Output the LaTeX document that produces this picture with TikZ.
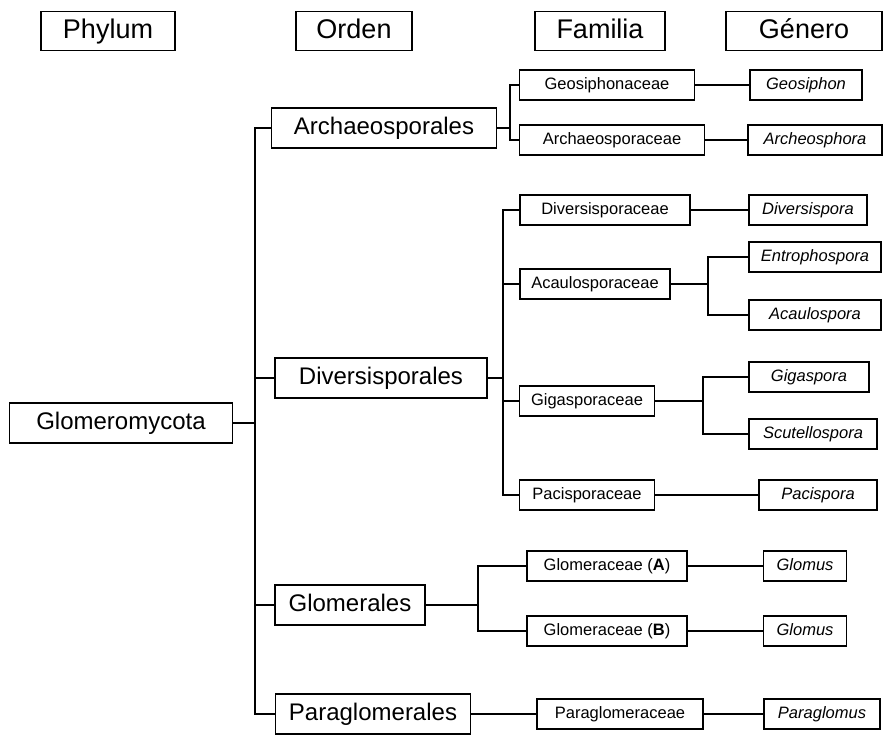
\documentclass[tikz,border=0pt]{standalone}
\usepackage{fontspec}
\setmainfont{Liberation Sans}
\begin{document}
\begin{tikzpicture}[x=1pt,y=-1pt,line width=1.2pt]
  \useasboundingbox (0,0) rectangle (883,734);

        % rank headers
        \begin{scope}[every node/.style={rectangle,draw,minimum height=39,text height=19.5pt,text depth=5.5pt,font=\fontsize{27}{30}\selectfont}]
          \node[minimum width=134] (phy) at (108,31)  {Phylum};
          \node[minimum width=116] (ord) at (354,31)  {Orden};
          \node[minimum width=130] (fam) at (600,31)  {Familia};
          \node[minimum width=156] (gen) at (804,31)  {Género};
        \end{scope}

        % phylum and orders
        \begin{scope}[every node/.style={rectangle,draw,minimum height=40,text height=17.3pt,text depth=5pt,font=\fontsize{24}{27}\selectfont}]
          \node[minimum width=223] (root) at (121,423)  {Glomeromycota};
          \node[minimum width=225] (arch) at (384,128)  {Archaeosporales};
          \node[minimum width=212] (div)  at (381,378)  {Diversisporales};
          \node[minimum width=150] (glo)  at (350,605)  {Glomerales};
          \node[minimum width=195] (para) at (373,714)  {Paraglomerales};
        \end{scope}

        % families
        \begin{scope}[every node/.style={rectangle,draw,minimum height=30,text height=12pt,text depth=3.5pt,font=\fontsize{16.5}{18}\selectfont}]
          \node[minimum width=175] (geosf)  at (607,85)   {Geosiphonaceae};
          \node[minimum width=185] (archf)  at (612,140)  {Archaeosporaceae};
          \node[minimum width=170] (divf)   at (605,210)  {Diversisporaceae};
          \node[minimum width=150] (acauf)  at (595,284)  {Acaulosporaceae};
          \node[minimum width=135] (gigaf)  at (587,401)  {Gigasporaceae};
          \node[minimum width=135] (pacif)  at (587,495)  {Pacisporaceae};
          \node[minimum width=160] (gloAf)  at (607,566)  {Glomeraceae (\textbf{A})};
          \node[minimum width=160] (gloBf)  at (607,631)  {Glomeraceae (\textbf{B})};
          \node[minimum width=166] (paraf)  at (620,714)  {Paraglomeraceae};
        \end{scope}

        % genera
        \begin{scope}[every node/.style={rectangle,draw,minimum height=30,text height=12pt,text depth=3.5pt,font=\fontsize{16.5}{18}\selectfont\itshape}]
          \node[minimum width=112] (geosg)  at (806,85)   {Geosiphon};
          \node[minimum width=134] (archg)  at (815,140)  {Archeosphora};
          \node[minimum width=118] (divg)   at (808,210)  {Diversispora};
          \node[minimum width=132] (entrg)  at (815,257)  {Entrophospora};
          \node[minimum width=132] (acaug)  at (815,315)  {Acaulospora};
          \node[minimum width=120] (gigag)  at (809,377)  {Gigaspora};
          \node[minimum width=128] (scutg)  at (813,434)  {Scutellospora};
          \node[minimum width=118] (pacig)  at (818,495)  {Pacispora};
          \node[minimum width=83]  (gloAg)  at (805,566)  {Glomus};
          \node[minimum width=83]  (gloBg)  at (805,631)  {Glomus};
          \node[minimum width=116] (parag)  at (822,714)  {Paraglomus};
        \end{scope}

        % branch points
        \coordinate (t0)  at (255,423);
        \coordinate (ta)  at (510,128);
        \coordinate (td)  at (503,378);
        \coordinate (tg)  at (478,605);
        \coordinate (tac) at (708,284);
        \coordinate (tgi) at (703,401);

        \draw[line width=2.4pt] (root) -- (t0);
        \draw (t0) |- (arch);
        \draw (t0) |- (div);
        \draw (t0) |- (glo);
        \draw (t0) |- (para);

        \draw (arch) -- (ta);
        \draw (ta) |- (geosf);
        \draw (ta) |- (archf);

        \draw[line width=1.8pt] (div) -- (td);
        \draw (td) |- (divf);
        \draw (td) |- (acauf);
        \draw (td) |- (gigaf);
        \draw (td) |- (pacif);

        \draw (glo) -- (tg);
        \draw (tg) |- (gloAf);
        \draw (tg) |- (gloBf);

        \draw (acauf) -- (tac);
        \draw (tac) |- (entrg);
        \draw (tac) |- (acaug);
        \draw (gigaf) -- (tgi);
        \draw (tgi) |- (gigag);
        \draw (tgi) |- (scutg);

        \begin{scope}[every edge/.style={draw}]
          \path (para)  edge (paraf);
          \path (geosf) edge (geosg);
          \path (archf) edge (archg);
          \path (divf)  edge (divg);
          \path (pacif) edge (pacig);
          \path (gloAf) edge (gloAg);
          \path (gloBf) edge (gloBg);
          \path (paraf) edge (parag);
        \end{scope}

      \end{tikzpicture}
\end{document}
